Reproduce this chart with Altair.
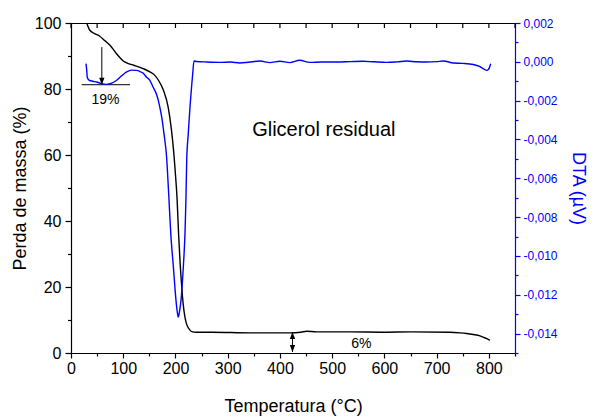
import altair as alt
import pandas as pd

# ---------------- data ----------------
tg_temp = [30, 33, 36, 45, 55, 65, 75, 87, 100, 110, 120, 138, 151, 160, 168, 177,
           186, 192, 196, 200, 203, 206, 209, 212, 215, 218, 221, 226, 231, 240,
           270, 343, 419, 440, 451, 470, 534, 600, 650, 725, 745, 757, 770, 783,
           795, 802]
tg_mass = [100, 98.8, 97.8, 96.8, 96.0, 94.6, 93.2, 90.7, 88.5, 87.7, 87.2, 86.2,
           85.2, 84.2, 82.5, 79.6, 74.5, 68, 62, 54, 47, 36, 27, 20, 14.5, 11, 8.9,
           7.3, 6.5, 6.3, 6.3, 6.1, 6.1, 6.3, 6.6, 6.4, 6.4, 6.3, 6.4, 6.3, 6.1,
           5.9, 5.6, 5.2, 4.4, 3.85]

dta_temp = [28.7, 30, 31.2, 35, 42, 49, 58, 68, 78, 87.5, 97, 106.6, 116, 125.8,
            132, 138, 145, 151, 157, 164, 169, 173.6, 178, 183, 187, 191, 196, 201,
            203.5, 205.4, 207.5, 210.6, 215, 218.2, 220, 221.5, 224.5, 227.8, 230.5,
            233, 235.5, 240, 260, 285, 305, 323, 340, 362, 381, 400, 419, 438, 457,
            480, 509, 535, 559, 580, 604, 625, 643, 662, 681, 700, 713, 732, 750,
            770, 782, 789, 796, 799, 801, 803.5]
dta_val = [-0.00009, -0.0004, -0.00081, -0.00095, -0.00100, -0.00104, -0.00112,
           -0.00116, -0.00110, -0.00095, -0.00072, -0.00052, -0.00043, -0.00044,
           -0.00050, -0.00058, -0.00080, -0.00095, -0.00130, -0.00170, -0.00220,
           -0.00284, -0.00370, -0.00490, -0.00680, -0.00885, -0.01057, -0.01229,
           -0.01290, -0.01315, -0.01290, -0.01229, -0.01057, -0.00885, -0.00713,
           -0.00507, -0.00370, -0.00233, -0.00140, -0.00060, 0.00004, 0.00002,
           -0.00001, -0.00003, -0.00001, -0.00006, -0.00002, 0.00004, -0.00004,
           0.00003, -0.00004, 0.00008, -0.00003, -0.00001, -0.00001, 0.00001,
           0.00003, 0.0, -0.00003, 0.0, 0.00004, 0.0, -0.00001, 0.00001, 0.00004,
           -0.00006, -0.00008, -0.00014, -0.00024, -0.00035, -0.00044, -0.00040,
           -0.00030, -0.00010]

# tick positions
x_ticks = [0, 50, 100, 150, 200, 250, 300, 350, 400, 450, 500, 550, 600, 650,
           700, 750, 800, 850]
y_ticks = [0, 10, 20, 30, 40, 50, 60, 70, 80, 90, 100]
dta_ticks = [-0.015, -0.014, -0.013, -0.012, -0.011, -0.010, -0.009, -0.008,
             -0.007, -0.006, -0.005, -0.004, -0.003, -0.002, -0.001, 0, 0.001, 0.002]

# annotations
note_text = ["Glicerol residual", "19%", "6%"]
note_x = [484, 66, 556]
note_y = [67.5, 76.6, 2.85]
note_size = [20, 14, 14]

base_line_x = [20.5]
base_line_x2 = [113]
base_line_y = [81.3]

arrow_x = [59, 424]
arrow_y = [92.7, 6.36]
arrow_y2 = [81.3, 0.3]

head_down_x = [59, 424]
head_down_y = [81.3, 0.3]
head_up_x = [424]
head_up_y = [6.36]

FONT = "Liberation Sans"
BLUE = "#0000ff"

tg_df = pd.DataFrame({"T": tg_temp, "m": tg_mass})
dta_df = pd.DataFrame({"T": dta_temp, "v": dta_val})
notes_df = pd.DataFrame({"T": note_x, "m": note_y, "t": note_text, "s": note_size})
hline_df = pd.DataFrame({"T": base_line_x, "T2": base_line_x2, "m": base_line_y})
arrow_df = pd.DataFrame({"T": arrow_x, "m": arrow_y, "m2": arrow_y2})
hd_df = pd.DataFrame({"T": head_down_x, "m": head_down_y})
hu_df = pd.DataFrame({"T": head_up_x, "m": head_up_y})
top_ticks_df = pd.DataFrame({"T": x_ticks})

x_scale = alt.Scale(domain=[0, 850], nice=False, zero=False)
y_scale = alt.Scale(domain=[0, 100], nice=False, zero=False)
y2_scale = alt.Scale(domain=[-0.015, 0.002], nice=False, zero=False)

x_bottom = alt.Axis(
    orient="bottom", values=x_ticks, format="d",
    labelExpr="datum.value % 100 === 0 ? datum.label : ''",
    tickSize={"condition": {"test": "datum.value % 100 === 0", "value": 5}, "value": 3},
    labelPadding=2, labelFlush=False, labelOverlap=False,
    labelFont=FONT, labelFontSize=16, labelColor="black",
    domainColor="black", tickColor="black", domainWidth=1.2, tickWidth=1.2,
    grid=False, title="Temperatura (°C)", titleFont=FONT, titleFontSize=18,
    titleFontWeight="normal", titleColor="black", titlePadding=21,
)
y_left = alt.Axis(
    orient="left", values=y_ticks, format="d",
    labelExpr="datum.value % 20 === 0 ? datum.label : ''",
    tickSize={"condition": {"test": "datum.value % 20 === 0", "value": 6}, "value": 3.5},
    labelPadding=4, labelFlush=False, labelOverlap=False,
    labelFont=FONT, labelFontSize=16, labelColor="black",
    domainColor="black", tickColor="black", domainWidth=1.2, tickWidth=1.2,
    grid=False, title="Perda de massa (%)", titleFont=FONT, titleFontSize=18,
    titleFontWeight="normal", titleColor="black", titlePadding=5,
)
x_top = alt.Axis(
    orient="top", values=x_ticks, labels=False, ticks=False,
    domainColor="black", domainWidth=1.2,
    grid=False, title=None,
)
y_right = alt.Axis(
    orient="right", values=dta_ticks,
    labelExpr="abs(round(datum.value * 1000)) % 2 === 0 ? "
              "replace(replace(format(datum.value, '.3f'), '.', ','), '\u2212', '-') : ''",
    tickSize={"condition": {"test": "abs(round(datum.value * 1000)) % 2 === 0", "value": 5},
              "value": 3},
    labelPadding=3, labelFlush=False, labelOverlap=False,
    labelFont=FONT, labelFontSize=12, labelColor=BLUE,
    domainColor=BLUE, tickColor=BLUE, domainWidth=1.2, tickWidth=1.2,
    grid=False, title="DTA (µV)", titleFont=FONT, titleFontSize=18,
    titleFontWeight="normal", titleColor=BLUE, titlePadding=11,
)

X = alt.X("T:Q", scale=x_scale, axis=x_bottom)
Y = alt.Y("m:Q", scale=y_scale, axis=y_left)

tg_line = alt.Chart(tg_df).mark_line(color="black", strokeWidth=1.4, interpolate="monotone").encode(
    x=X, y=Y,
)

notes = alt.Chart(notes_df).mark_text(font=FONT, color="black").encode(
    x=X, y=Y,
    text="t:N",
    size=alt.Size("s:Q", scale=None, legend=None),
)

hline = alt.Chart(hline_df).mark_rule(color="black", strokeWidth=1).encode(
    x=X, x2="T2:Q", y=Y,
)

arrows = alt.Chart(arrow_df).mark_rule(color="black", strokeWidth=1).encode(
    x=X, y=Y, y2="m2:Q",
)

heads_down = alt.Chart(hd_df).mark_point(
    shape="M0,0L-0.38,-1L0.38,-1Z", filled=True, color="black", opacity=1, size=196
).encode(x=X, y=Y)

heads_up = alt.Chart(hu_df).mark_point(
    shape="M0,0L-0.38,1L0.38,1Z", filled=True, color="black", opacity=1, size=196
).encode(x=X, y=Y)

# inward ticks along the top frame
top_ticks = alt.Chart(top_ticks_df).mark_rule(color="black", strokeWidth=1.2).encode(
    x=X, y=alt.value(0), y2=alt.value(5),
)

tg_layer = alt.layer(tg_line, hline, arrows, heads_down, heads_up, notes, top_ticks)

dta_line = alt.Chart(dta_df).mark_line(color=BLUE, strokeWidth=1.4, interpolate="monotone").encode(
    x=alt.X("T:Q", scale=x_scale, axis=x_top),
    y=alt.Y("v:Q", scale=y2_scale, axis=y_right),
)

chart = alt.layer(tg_layer, dta_line).resolve_scale(y="independent").properties(
    width=444, height=330,
    autosize=alt.AutoSizeParams(type="none"),
    padding={"left": 71, "top": 23, "right": 78, "bottom": 63},
    background="white",
).configure_view(stroke="transparent")

chart.save("out.html", embed_options={"renderer": "svg", "actions": False})
